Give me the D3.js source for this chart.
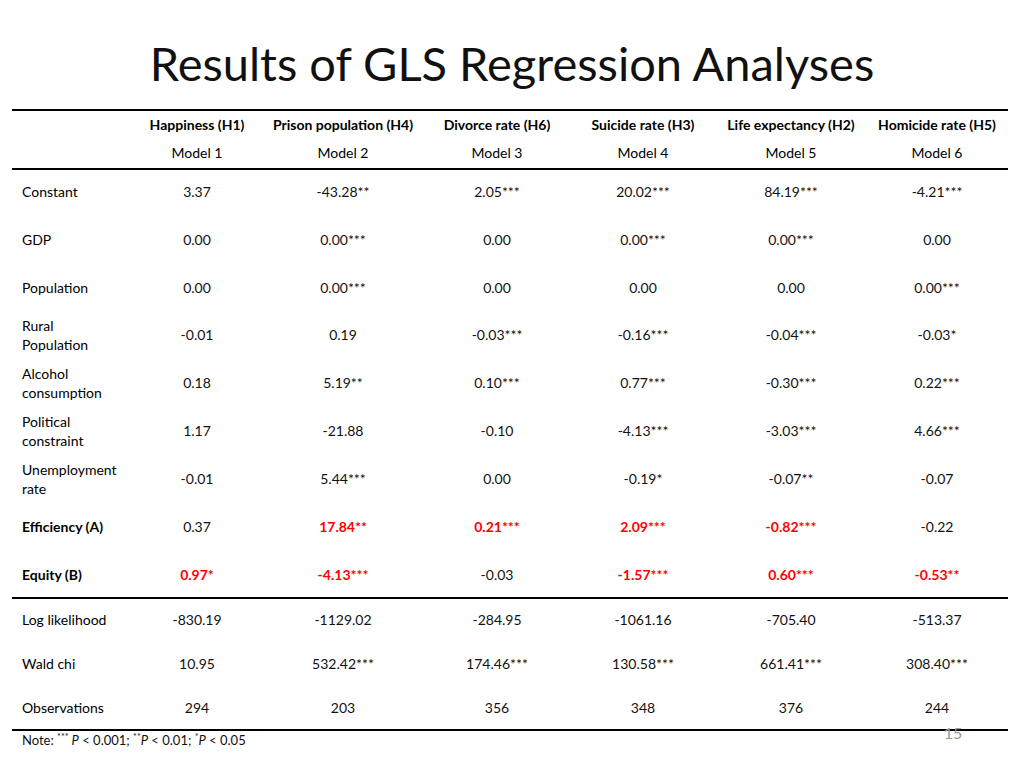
<!DOCTYPE html><html><head><meta charset="utf-8"><script src="https://cdn.jsdelivr.net/npm/d3@7"></script>
<style>body{margin:0;background:#fff}svg{font-family:Lato,"Open Sans",sans-serif}</style></head><body>
<script>
const outcomes=["Happiness (H1)","Prison population (H4)","Divorce rate (H6)","Suicide rate (H3)","Life expectancy (H2)","Homicide rate (H5)"];
const models=["Model 1","Model 2","Model 3","Model 4","Model 5","Model 6"];
const rowLabels=[["Constant"],["GDP"],["Population"],["Rural","Population"],["Alcohol","consumption"],["Political","constraint"],["Unemployment","rate"],["Efficiency (A)"],["Equity (B)"],["Log likelihood"],["Wald chi"],["Observations"]];
const values=[
["3.37","-43.28**","2.05***","20.02***","84.19***","-4.21***"],
["0.00","0.00***","0.00","0.00***","0.00***","0.00"],
["0.00","0.00***","0.00","0.00","0.00","0.00***"],
["-0.01","0.19","-0.03***","-0.16***","-0.04***","-0.03*"],
["0.18","5.19**","0.10***","0.77***","-0.30***","0.22***"],
["1.17","-21.88","-0.10","-4.13***","-3.03***","4.66***"],
["-0.01","5.44***","0.00","-0.19*","-0.07**","-0.07"],
["0.37","17.84**","0.21***","2.09***","-0.82***","-0.22"],
["0.97*","-4.13***","-0.03","-1.57***","0.60***","-0.53**"],
["-830.19","-1129.02","-284.95","-1061.16","-705.40","-513.37"],
["10.95","532.42***","174.46***","130.58***","661.41***","308.40***"],
["294","203","356","348","376","244"]];
const highlight=[[],[],[],[],[],[],[],[1,2,3,4],[0,1,3,4,5],[],[],[]];
const boldRows=[7,8];
const colCenters=[197,343,497,643,791,937];
const rowCenters=[192,240,288,335,383,431,479,527,575,620,664,708];
const fs=14;
const svg=d3.select("body").append("svg").attr("width",1024).attr("height",768);
const x=d3.scaleOrdinal().domain(d3.range(6)).range(colCenters);
const y=d3.scaleOrdinal().domain(d3.range(12)).range(rowCenters);
svg.append("text").attr("x",512).attr("y",81).attr("text-anchor","middle").attr("font-size",47).attr("fill","#111").text("Results of GLS Regression Analyses");
[110,169,598,730].forEach(v=>svg.append("line").attr("x1",12).attr("x2",1008).attr("y1",v).attr("y2",v).attr("stroke","#000").attr("stroke-width",2));
svg.selectAll(".oc").data(outcomes).join("text").attr("x",(d,i)=>x(i)).attr("y",130).attr("text-anchor","middle").attr("font-size",fs).attr("font-weight","bold").text(d=>d);
svg.selectAll(".md").data(models).join("text").attr("x",(d,i)=>x(i)).attr("y",158).attr("text-anchor","middle").attr("font-size",fs).text(d=>d);
rowLabels.forEach((lab,r)=>{
  const t=svg.append("text").attr("x",22).attr("font-size",fs).attr("font-weight",boldRows.includes(r)?"bold":"normal");
  if(lab.length===1) t.attr("y",y(r)+5).text(lab[0]);
  else lab.forEach((l,k)=>t.append("tspan").attr("x",22).attr("y",y(r)-4+k*19).text(l));
  svg.selectAll(null).data(values[r]).join("text").attr("x",(d,i)=>x(i)).attr("y",y(r)+5).attr("text-anchor","middle").attr("font-size",fs)
    .attr("font-weight",(d,i)=>highlight[r].includes(i)?"bold":"normal").attr("fill",(d,i)=>highlight[r].includes(i)?"#ff0000":"#111").text(d=>d);
});
const n=svg.append("text").attr("x",22).attr("y",745).attr("font-size",13).attr("fill","#111");
n.append("tspan").text("Note:   ");
n.append("tspan").attr("font-size",9).attr("dy",-5).text("***");
n.append("tspan").attr("dy",5).attr("font-style","italic").text(" P");
n.append("tspan").text(" < 0.001; ");
n.append("tspan").attr("font-size",9).attr("dy",-5).text("**");
n.append("tspan").attr("dy",5).attr("font-style","italic").text("P");
n.append("tspan").text(" < 0.01; ");
n.append("tspan").attr("font-size",9).attr("dy",-5).text("*");
n.append("tspan").attr("dy",5).attr("font-style","italic").text("P");
n.append("tspan").text(" < 0.05");
svg.append("text").attr("x",953).attr("y",739).attr("text-anchor","middle").attr("font-size",16).attr("fill","#999").text("15");
</script></body></html>
